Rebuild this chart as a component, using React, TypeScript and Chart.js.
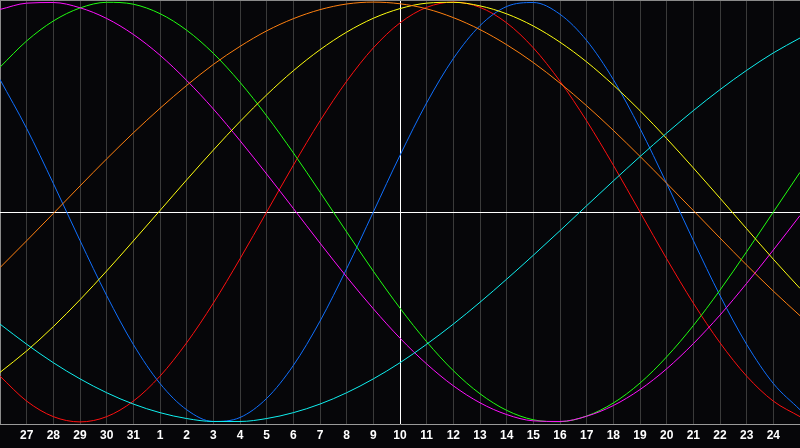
import React, { useEffect, useRef } from "react";
import { Chart, registerables } from "chart.js";

Chart.register(...registerables);

// Day labels (index 0 and 30 are the off-edge days, not labelled)
const dayLabels: string[] = [
  "26", "27", "28", "29", "30", "31", "1", "2", "3", "4", "5", "6", "7", "8", "9", "10",
  "11", "12", "13", "14", "15", "16", "17", "18", "19", "20", "21", "22", "23", "24", "25",
];

const redSeries: number[] = [
  -0.782, -0.901, -0.975, -1.0, -0.975, -0.901, -0.782, -0.623, -0.434, -0.223, 0.0,
  0.223, 0.434, 0.623, 0.782, 0.901, 0.975, 1.0, 0.975, 0.901, 0.782,
  0.623, 0.434, 0.223, 0.0, -0.223, -0.434, -0.623, -0.782, -0.901, -0.975,
];
const greenSeries: number[] = [
  0.69, 0.815, 0.91, 0.972, 0.999, 0.99, 0.945, 0.866, 0.756, 0.618, 0.458,
  0.282, 0.095, -0.095, -0.282, -0.458, -0.618, -0.756, -0.866, -0.945, -0.99,
  -0.999, -0.972, -0.91, -0.815, -0.69, -0.541, -0.372, -0.189, 0.0, 0.189,
];
const blueSeries: number[] = [
  0.631, 0.398, 0.136, -0.136, -0.398, -0.631, -0.817, -0.942, -0.998, -0.979, -0.888,
  -0.731, -0.52, -0.27, 0.0, 0.27, 0.52, 0.731, 0.888, 0.979, 0.998,
  0.942, 0.817, 0.631, 0.398, 0.136, -0.136, -0.398, -0.631, -0.817, -0.942,
];
const magentaSeries: number[] = [
  0.965, 0.995, 0.998, 0.973, 0.922, 0.846, 0.747, 0.627, 0.491, 0.34, 0.181,
  0.017, -0.148, -0.309, -0.461, -0.601, -0.724, -0.828, -0.909, -0.965, -0.995,
  -0.998, -0.973, -0.922, -0.846, -0.747, -0.627, -0.491, -0.34, -0.181, -0.017,
];
const yellowSeries: number[] = [
  -0.764, -0.662, -0.546, -0.418, -0.281, -0.138, 0.007, 0.153, 0.295, 0.431, 0.558,
  0.673, 0.773, 0.857, 0.923, 0.969, 0.995, 0.999, 0.982, 0.944, 0.886,
  0.809, 0.715, 0.605, 0.483, 0.35, 0.21, 0.066, -0.08, -0.225, -0.364,
];
const orangeSeries: number[] = [
  -0.265, -0.137, -0.007, 0.124, 0.253, 0.377, 0.494, 0.603, 0.703, 0.789, 0.863,
  0.921, 0.964, 0.991, 1.0, 0.992, 0.968, 0.926, 0.869, 0.797, 0.712,
  0.614, 0.506, 0.389, 0.265, 0.137, 0.007, -0.124, -0.253, -0.377, -0.494,
];
const cyanSeries: number[] = [
  -0.534, -0.63, -0.718, -0.795, -0.861, -0.915, -0.956, -0.984, -0.998, -0.998, -0.984,
  -0.956, -0.915, -0.861, -0.795, -0.718, -0.63, -0.534, -0.43, -0.32, -0.206,
  -0.089, 0.03, 0.148, 0.264, 0.376, 0.483, 0.583, 0.675, 0.758, 0.829,
];

const seriesList: { name: string; color: string; data: number[] }[] = [
  { name: "cyan", color: "#10f0f0", data: cyanSeries },
  { name: "orange", color: "#ff8010", data: orangeSeries },
  { name: "yellow", color: "#ffff10", data: yellowSeries },
  { name: "magenta", color: "#ff10ff", data: magentaSeries },
  { name: "green", color: "#20ff10", data: greenSeries },
  { name: "blue", color: "#1070ff", data: blueSeries },
  { name: "red", color: "#ff1010", data: redSeries },
];

const todayIndex = 15;
const yLimit = 1.01;

export default function App() {
  const canvasRef = useRef<HTMLCanvasElement | null>(null);

  useEffect(() => {
    document.body.style.margin = "0";
    document.body.style.background = "#060609";
    const canvas = canvasRef.current;
    if (!canvas) return;
    const chart = new Chart(canvas, {
      type: "line",
      data: {
        labels: dayLabels,
        datasets: seriesList.map((s) => ({
          label: s.name,
          data: s.data,
          borderColor: s.color,
          borderWidth: 1,
          pointRadius: 0,
          fill: false,
          cubicInterpolationMode: "monotone" as const,
        })),
      },
      options: {
        responsive: false,
        animation: false,
        devicePixelRatio: 1,
        layout: { padding: { left: 0, right: 0, top: 0, bottom: 1.6 } },
        plugins: {
          legend: { display: false },
          tooltip: { enabled: false },
        },
        scales: {
          x: {
            type: "category",
            offset: false,
            afterFit: (scale: any) => {
              scale.paddingLeft = 0;
              scale.paddingRight = 0;
            },
            border: { display: true, color: "#9a9a9a", width: 1 },
            grid: {
              drawTicks: false,
              offset: false,
              color: (ctx: any) => {
                const i = ctx.index;
                if (i === 0) return "#8a8a8a";
                if (i === todayIndex) return "#ffffff";
                return "#3a3a3a";
              },
              lineWidth: 1,
            },
            ticks: {
              autoSkip: false,
              maxRotation: 0,
              minRotation: 0,
              padding: 4,
              color: "#ffffff",
              font: { family: "Liberation Sans", weight: "bold", size: 12 },
              callback: (_v: any, i: number) =>
                i === 0 || i === dayLabels.length - 1 ? "" : dayLabels[i],
            },
          },
          y: {
            type: "linear",
            min: -yLimit,
            max: yLimit,
            display: true,
            afterFit: (scale: any) => {
              scale.width = 0;
              scale.paddingTop = 0;
              scale.paddingBottom = 0;
            },
            border: { display: false },
            afterBuildTicks: (scale: any) => {
              scale.ticks = [{ value: -yLimit }, { value: 0 }, { value: yLimit }];
            },
            grid: {
              drawTicks: false,
              color: (ctx: any) => {
                const v = ctx.tick ? ctx.tick.value : null;
                if (v === 0) return "#ffffff";
                if (v !== null && v > 0) return "#8a8a8a";
                return "rgba(0,0,0,0)";
              },
              lineWidth: 1,
            },
            ticks: { display: false },
          },
        },
      },
    });
    return () => chart.destroy();
  }, []);

  return (
    <div style={{ width: 800, height: 448, background: "#060609" }}>
      <canvas ref={canvasRef} width={800} height={448} style={{ display: "block" }} />
    </div>
  );
}
